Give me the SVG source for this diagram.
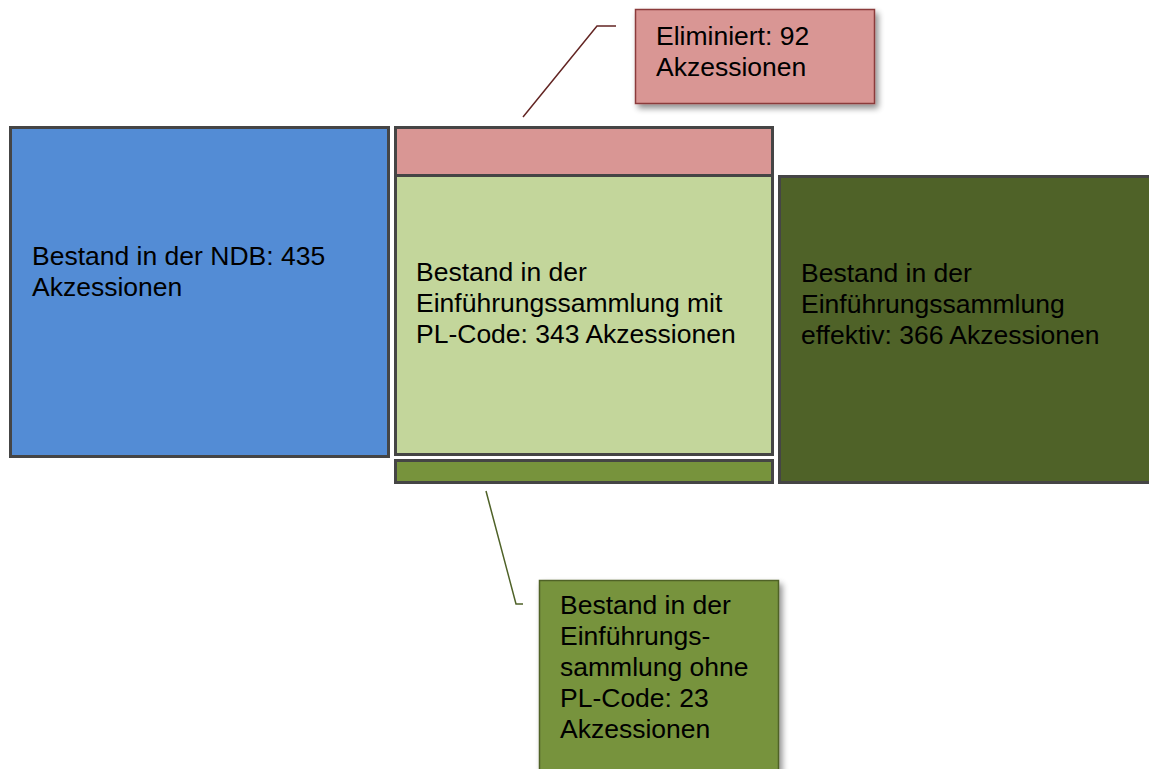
<svg xmlns="http://www.w3.org/2000/svg" width="1149" height="769" viewBox="0 0 1149 769">
<defs>
<filter id="sh" x="-10%" y="-10%" width="130%" height="140%">
<feGaussianBlur in="SourceAlpha" stdDeviation="3"/>
<feOffset dx="3" dy="4" result="b"/>
<feComponentTransfer><feFuncA type="linear" slope="0.45"/></feComponentTransfer>
<feMerge><feMergeNode/><feMergeNode in="SourceGraphic"/></feMerge>
</filter>
</defs>
<style>
.box{stroke:#454545;stroke-width:3}
.t{font-family:"Liberation Sans",Arial,sans-serif;font-size:26.5px;fill:#000}
.lead{fill:none;stroke-width:1.5}
</style>
<rect width="1149" height="769" fill="#fff"/>
<g id="connectors">
<polyline class="lead" stroke="#632523" points="523,117 597,26 616,26"/>
<polyline class="lead" stroke="#4f6228" points="486,491 516,604 523,604"/>
</g>
<g id="ndb">
<rect class="box" x="10.5" y="127.5" width="378" height="329" fill="#538cd5"/>
<text class="t" x="32" y="265">Bestand in der NDB: 435</text>
<text class="t" x="32" y="296">Akzessionen</text>
</g>
<g id="elim-bar">
<rect class="box" x="395.5" y="127.5" width="377" height="48" fill="#d99694"/>
</g>
<g id="mit-pl">
<rect class="box" x="395.5" y="175.5" width="377" height="279" fill="#c3d69b"/>
<text class="t" x="416" y="281">Bestand in der</text>
<text class="t" x="416" y="312">Einführungssammlung mit</text>
<text class="t" x="416" y="343">PL-Code: 343 Akzessionen</text>
</g>
<g id="ohne-bar">
<rect class="box" x="395.5" y="460.5" width="377" height="22" fill="#77933c"/>
</g>
<g id="effektiv">
<rect class="box" x="779.5" y="176.5" width="372" height="306" fill="#4f6228"/>
<text class="t" x="801" y="282">Bestand in der</text>
<text class="t" x="801" y="313">Einführungssammlung</text>
<text class="t" x="801" y="344">effektiv: 366 Akzessionen</text>
</g>
<g id="elim-callout">
<rect x="635.5" y="9.5" width="239" height="94" fill="#d99694" stroke="#8b3a3a" stroke-width="1.5" filter="url(#sh)"/>
<text class="t" x="656" y="45">Eliminiert: 92</text>
<text class="t" x="656" y="76">Akzessionen</text>
</g>
<g id="ohne-callout">
<rect x="539.5" y="580.5" width="239" height="195" fill="#77933c" stroke="#4f6228" stroke-width="1.5" filter="url(#sh)"/>
<text class="t" x="560" y="614">Bestand in der</text>
<text class="t" x="560" y="645">Einführungs-</text>
<text class="t" x="560" y="676">sammlung ohne</text>
<text class="t" x="560" y="707">PL-Code: 23</text>
<text class="t" x="560" y="738">Akzessionen</text>
</g>
</svg>
